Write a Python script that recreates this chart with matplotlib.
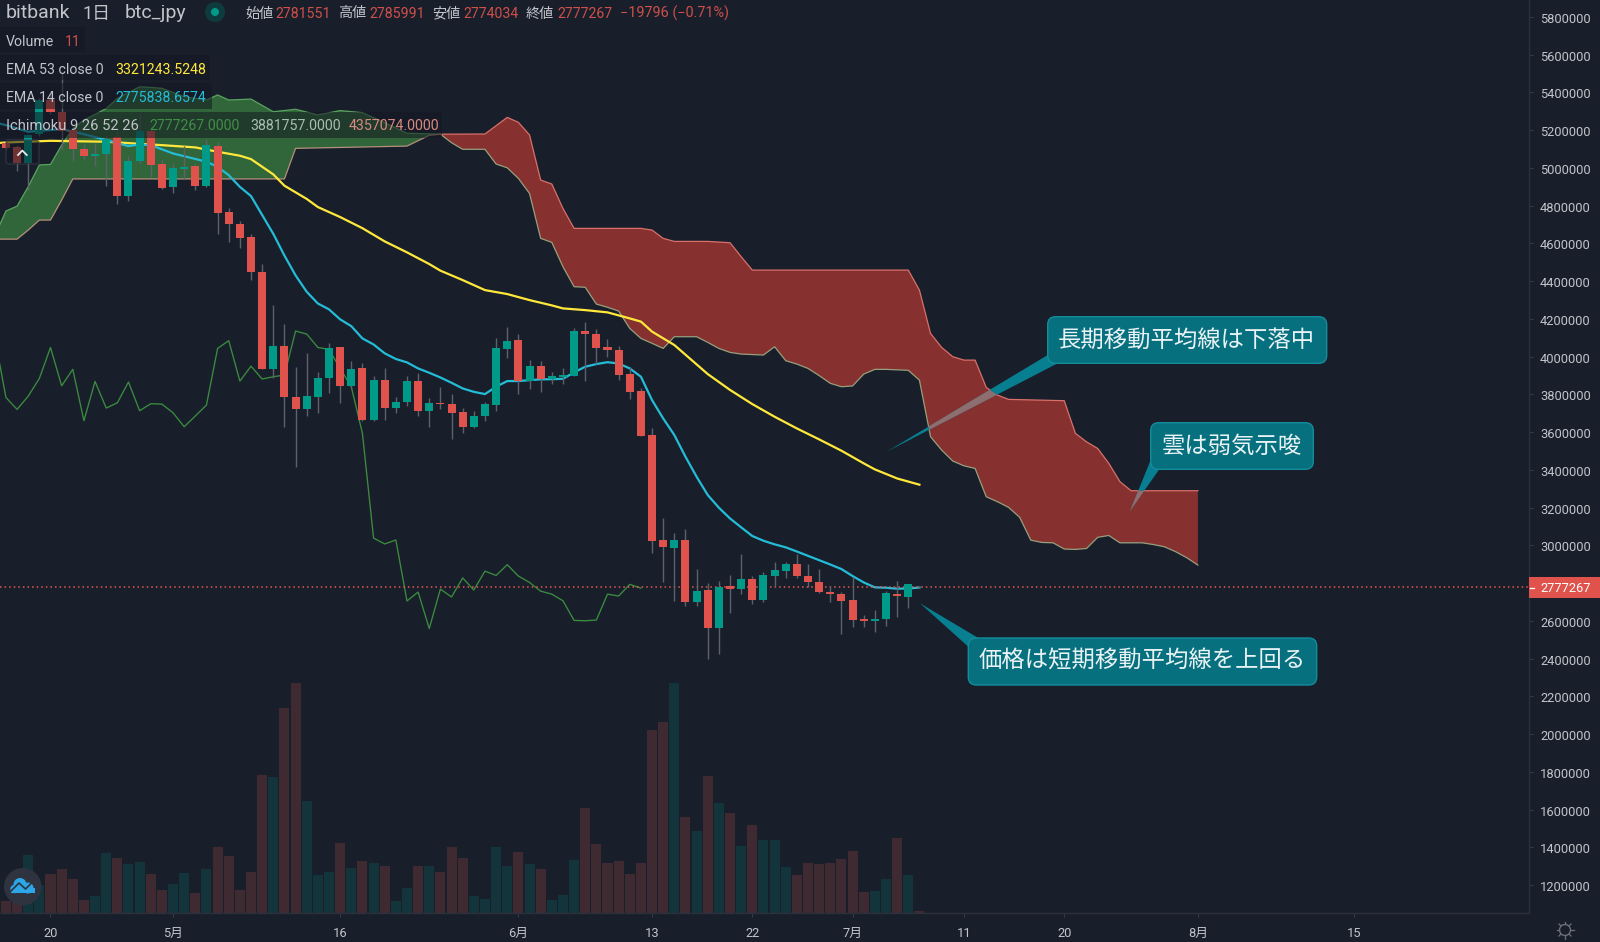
import numpy as np
import matplotlib
matplotlib.use("Agg")
import matplotlib.pyplot as plt
from matplotlib.patches import Circle, FancyBboxPatch, Polygon, Rectangle
from matplotlib.transforms import ScaledTranslation

plt.rcParams["font.family"] = ["Roboto", "Noto Sans CJK JP", "DejaVu Sans"]

BG = "#181f2b"
RED = "#df534c"
TEAL = "#009a88"
GREY_TEXT = "#c2c4ca"

# day 0 is 20 April, prices are in thousand yen
candle_days = np.arange(-4, 79)
opens = [5129, 5108, 5023, 5177, 5359, 5293, 5200, 5102, 5064, 5072, 5164, 4850, 5035, 5196, 5019, 4896, 4996,
         5009, 4905, 5117, 4767, 4700, 4634, 4449, 3932, 4054, 3787, 3720, 3787, 3888, 4048, 3845, 3937, 3662,
         3875, 3729, 3757, 3868, 3713, 3752, 3748, 3704, 3628, 3683, 3745, 4041, 4089, 3872, 3949, 3879, 3889,
         3898, 4136, 4122, 4052, 4034, 3905, 3817, 3582, 3027, 2987, 3027, 2697, 2763, 2563, 2782, 2770, 2821,
         2710, 2838, 2865, 2900, 2838, 2805, 2755, 2743, 2708, 2609, 2598, 2607, 2743, 2727, 2781.551]
highs = [5140, 5120, 5177, 5370, 5400, 5500, 5208, 5124, 5129, 5173, 5196, 5062, 5288, 5217, 5041, 5018, 5115,
         5022, 5155, 5134, 4788, 4717, 4650, 4488, 4273, 4175, 3946, 4020, 3919, 4070, 4050, 3976, 3964, 3896,
         3937, 3783, 3896, 3911, 3778, 3836, 3801, 3725, 3711, 3757, 4096, 4154, 4119, 3981, 3976, 3916, 3937,
         4149, 4181, 4144, 4092, 4055, 3946, 3831, 3619, 3142, 3063, 3084, 2872, 2801, 2812, 2842, 2952, 2837,
         2856, 2909, 2911, 2952, 2900, 2874, 2784, 2750, 2830, 2630, 2657, 2759, 2810, 2794, 2785.991]
lows = [5100, 4982, 4882, 5170, 5285, 5094, 5035, 5046, 5011, 4905, 4806, 4823, 5028, 4952, 4887, 4869, 4943,
        4882, 4899, 4647, 4608, 4573, 4405, 3932, 3884, 3625, 3416, 3685, 3699, 3808, 3752, 3831, 3660, 3660,
        3662, 3699, 3738, 3685, 3625, 3720, 3561, 3593, 3623, 3660, 3711, 3993, 3804, 3829, 3813, 3852, 3854,
        3896, 3872, 3963, 3999, 3875, 3774, 3578, 2960, 2807, 2706, 2678, 2678, 2395, 2423, 2642, 2741, 2687,
        2697, 2784, 2824, 2828, 2780, 2748, 2701, 2529, 2568, 2568, 2540, 2574, 2621, 2669, 2774.034]
closes = [5106, 5023, 5173, 5359, 5293, 5194, 5099, 5062, 5071, 5155, 4850, 5037, 5196, 5014, 4894, 5000, 5005,
          4905, 5120, 4763, 4700, 4629, 4449, 3932, 4054, 3783, 3720, 3790, 3888, 4047, 3843, 3934, 3662, 3875,
          3729, 3759, 3868, 3713, 3752, 3746, 3700, 3628, 3685, 3748, 4045, 4084, 3870, 3949, 3879, 3898, 3902,
          4136, 4117, 4046, 4034, 3902, 3813, 3580, 3024, 2992, 3027, 2697, 2759, 2563, 2780, 2770, 2821, 2710,
          2842, 2867, 2899, 2837, 2803, 2754, 2743, 2704, 2604, 2598, 2609, 2745, 2731, 2793, 2777.267]
volumes = [35, 32, 175, 85, 117, 132, 103, 40, 52, 181, 166, 146, 154, 116, 68, 87, 119, 61, 131, 197, 172, 68,
           124, 415, 407, 616, 689, 337, 113, 124, 211, 136, 155, 151, 142, 35, 76, 142, 142, 122, 199, 166, 50,
           42, 197, 142, 183, 147, 132, 40, 55, 158, 315, 207, 151, 156, 116, 151, 549, 574, 689, 289, 247, 410,
           331, 301, 202, 265, 220, 220, 137, 115, 151, 146, 151, 162, 187, 64, 67, 101, 225, 115, 5]

ema53_days = [-5, -4, 0, 5, 10, 13, 15, 17, 18, 20, 21, 23, 24, 26, 28, 30, 32, 34, 35, 37, 39, 41, 43, 45, 46,
              48, 50, 52, 53, 54, 56, 59, 61, 63, 65, 67, 69, 71, 73, 74, 76, 78]
ema53 = [5130, 5134, 5143, 5138, 5120, 5108, 5085, 5064, 5046, 4965, 4905, 4835, 4792, 4739, 4680, 4610, 4552,
         4490, 4455, 4405, 4352, 4331, 4299, 4271, 4255, 4246, 4234, 4202, 4185, 4132, 4061, 3907, 3823, 3748,
         3681, 3619, 3561, 3501, 3434, 3402, 3354, 3321]

ema14_days = [-5, -4, -2, 1, 3, 5, 7, 8, 9, 11, 14, 15, 16, 17, 18, 19, 20, 21, 22, 23, 24, 25, 26, 27, 28, 29,
              30, 31, 32, 33, 34, 35, 36, 37, 38, 39, 40, 41, 42, 43, 44, 45, 46, 47, 48, 49, 50, 51, 52, 53, 54,
              55, 56, 57, 58, 59, 60, 61, 62, 63, 64, 65, 66, 67, 68, 69, 70, 71, 72, 73, 74, 75, 76, 77, 78]
ema14 = [5240, 5226, 5191, 5205, 5178, 5147, 5115, 5124, 5120, 5076, 5032, 5005, 4961, 4899, 4850, 4750, 4650,
         4535, 4430, 4343, 4281, 4250, 4197, 4161, 4096, 4064, 4017, 3987, 3969, 3937, 3914, 3889, 3861, 3831,
         3813, 3801, 3840, 3870, 3870, 3875, 3879, 3880, 3882, 3916, 3946, 3960, 3970, 3963, 3937, 3893, 3769,
         3672, 3584, 3469, 3363, 3266, 3199, 3142, 3095, 3049, 3024, 3005, 2989, 2967, 2944, 2921, 2898, 2874,
         2837, 2803, 2777, 2775, 2770, 2771, 2776]

lagging_days = np.arange(-5, 54)
lagging = [4100, 3783, 3720, 3790, 3884, 4048, 3845, 3932, 3660, 3868, 3727, 3755, 3865, 3713, 3750, 3748, 3702,
           3628, 3685, 3743, 4043, 4084, 3870, 3949, 3881, 3893, 3902, 4135, 4119, 4048, 4038, 3937, 3840, 3593,
           3038, 3007, 3028, 2705, 2752, 2559, 2768, 2726, 2827, 2763, 2863, 2840, 2897, 2837, 2803, 2757, 2741,
           2706, 2602, 2600, 2604, 2741, 2731, 2793, 2773]

span_a_days = [-5, -4, -3, -2, -1, 0, 1, 2, 3, 4, 5, 6, 7, 8, 9, 10, 12, 14, 15, 16, 18, 20, 22, 24, 26, 28, 30,
               32, 34, 35, 36, 37, 39, 40, 41, 42, 43, 44, 45, 46, 47, 48, 49, 50, 51, 52, 53, 54, 55, 56, 58,
               59, 60, 61, 62, 64, 65, 66, 67, 68, 69, 70, 71, 72, 73, 74, 75, 77, 78, 79, 80, 81, 82, 83, 84,
               85, 86, 87, 88, 89, 90, 91, 92, 93, 94, 95, 96, 97, 98, 99, 100, 101, 102, 103]
span_a = [4640, 4771, 4797, 4900, 5015, 5018, 5120, 5208, 5253, 5283, 5314, 5367, 5399, 5429, 5426, 5421, 5377,
          5359, 5386, 5359, 5364, 5297, 5310, 5280, 5303, 5292, 5239, 5183, 5180, 5178, 5133, 5098, 5098, 5020,
          5000, 4944, 4864, 4626, 4605, 4476, 4370, 4367, 4278, 4261, 4241, 4149, 4096, 4070, 4043, 4105, 4105,
          4075, 4043, 4022, 4013, 4008, 4052, 3978, 3960, 3937, 3899, 3858, 3840, 3844, 3907, 3932, 3932, 3927,
          3875, 3575, 3504, 3446, 3421, 3407, 3257, 3231, 3201, 3148, 3027, 3015, 3013, 2980, 2978, 2983, 3042,
          3052, 3013, 3013, 3013, 3004, 2992, 2966, 2934, 2895]
span_b_days = [-5, -3, -2, -1, 0, 1, 2, 21, 22, 32, 34, 35, 39, 41, 42, 43, 44, 45, 46, 47, 53, 54, 55, 56, 59,
               61, 62, 63, 77, 78, 79, 80, 81, 82, 83, 84, 85, 86, 91, 92, 93, 94, 95, 96, 97, 103]
span_b = [4622, 4622, 4670, 4723, 4723, 4829, 4941, 4941, 5103, 5115, 5172, 5178, 5179, 5267, 5241, 5174, 4935,
          4914, 4785, 4679, 4679, 4670, 4626, 4610, 4610, 4603, 4529, 4458, 4458, 4352, 4122, 4048, 3999, 3981,
          3981, 3836, 3796, 3773, 3766, 3593, 3548, 3513, 3434, 3337, 3289, 3289]

tick_days = [0, 11, 26, 42, 54, 63, 72, 82, 91, 103, 117]
tick_labels = ["20", "5月", "16", "6月", "13", "22", "7月", "11", "20", "8月", "15"]
price_ticks = np.arange(1200000, 5800001, 200000)


def yen(values):
    return np.array(values, dtype=float) * 1000


def px_text(ax, x, y, s, color=GREY_TEXT, size=10.2, **kw):
    ax.text(x, y + 1.5, s, color=color, fontsize=size, va="center", **kw)


def callout(ax, box, tail, text_xy, text, cloud=None):
    # tail first so the box sits on top of it
    ax.add_patch(Polygon(tail, closed=True, fc="#087f90", ec="none", zorder=5))
    if cloud is not None:
        over = Polygon(tail, closed=True, fc="#8e6e6e", ec="none", zorder=6)
        ax.add_patch(over)
        over.set_clip_path(cloud)
    x0, y0, x1, y1 = box
    ax.add_patch(FancyBboxPatch((x0 + 8, y0 + 8), x1 - x0 - 16, y1 - y0 - 16, boxstyle="round,pad=8,rounding_size=8",
                                fc="#07707f", ec="#138c9c", lw=1.0, zorder=7))
    ax.text(text_xy[0], text_xy[1] + 2.5, text, color="#e9f3f5", fontsize=16.8, ha="center", va="center",
            family=["Noto Sans CJK JP", "DejaVu Sans"], zorder=8)


def plot():
    fig = plt.figure(figsize=(16, 9.42), dpi=100, facecolor=BG)
    rect = [0, 29 / 942, 1529 / 1600, 913 / 942]

    ax_vol = fig.add_axes(rect, facecolor=BG, zorder=0)
    ax = fig.add_axes(rect, facecolor="none", zorder=1)
    ui = fig.add_axes([0, 0, 1, 1], facecolor="none", zorder=2)

    xlim = (-4.533, 132.72)
    ax.set_xlim(xlim)
    ax.set_ylim(1051700, 5889000)
    ax_vol.set_xlim(xlim)
    ax_vol.set_ylim(0, 2739)
    ax_vol.axis("off")
    ui.set_xlim(0, 1600)
    ui.set_ylim(942, 0)
    ui.axis("off")

    o, h, l, c = yen(opens), yen(highs), yen(lows), yen(closes)
    up = c >= o

    ax_vol.bar(candle_days, volumes, width=0.9, color=["#14343b" if u else "#3f2a32" for u in up])

    a_days, a_vals = np.array(span_a_days), yen(span_a)
    b_days, b_vals = np.array(span_b_days), yen(span_b)
    cross = 35

    ga, gb = a_days <= cross, b_days <= cross
    ax.fill(np.r_[a_days[ga], b_days[gb][::-1]], np.r_[a_vals[ga], b_vals[gb][::-1]], color="#31663a", lw=0, zorder=2)
    ra, rb = a_days >= cross, b_days >= cross
    cloud = ax.fill(np.r_[a_days[ra], b_days[rb][::-1]], np.r_[a_vals[ra], b_vals[rb][::-1]], color="#873030", lw=0, zorder=2)[0]
    ax.plot(a_days[ga], a_vals[ga], color="#5aa35f", lw=0.9, zorder=2.5)
    ax.plot(a_days[ra], a_vals[ra], color="#97a07c", lw=0.9, zorder=2.5)
    ax.plot(b_days[gb], b_vals[gb], color="#b5907c", lw=0.9, zorder=2.5)
    ax.plot(b_days[rb], b_vals[rb], color="#d9706a", lw=0.9, zorder=2.5)

    ax.plot(lagging_days, yen(lagging), color="#3b8c3f", lw=0.95, zorder=3)
    ax.plot(ema53_days, yen(ema53), color="#ffe83b", lw=1.6, zorder=3.2)
    ax.plot(ema14_days, yen(ema14), color="#24bcd6", lw=1.6, zorder=3.2)

    last_close = c[-1]
    ax.axhline(last_close, color="#e8554e", lw=1.1, ls=(0, (1, 2)), zorder=3.5)

    ax.vlines(candle_days, l, h, color="#5d616c", lw=1.0, zorder=4)
    colors = [TEAL if u else RED for u in up]
    ax.bar(candle_days, np.abs(c - o), bottom=np.minimum(o, c), width=0.72, color=colors, zorder=5)

    for side in ("top", "left"):
        ax.spines[side].set_visible(False)
    for side in ("bottom", "right"):
        ax.spines[side].set_color("#2b303c")
        ax.spines[side].set_linewidth(1.0)

    ax.yaxis.tick_right()
    ax.set_yticks(price_ticks)
    ax.set_yticklabels([str(p) for p in price_ticks])
    ax.tick_params(axis="y", length=3, width=0.8, color="#363a45", labelcolor=GREY_TEXT, labelsize=9.3, pad=5)
    ax.set_xticks(tick_days)
    ax.set_xticklabels(tick_labels)
    ax.tick_params(axis="x", length=3, width=0.8, color="#363a45", labelcolor=GREY_TEXT, labelsize=9.3, pad=7)
    for lbl in ax.get_yticklabels():
        lbl.set_transform(lbl.get_transform() + ScaledTranslation(0, -0.01, fig.dpi_scale_trans))

    # dim strips behind the legend rows
    for x1, y0, y1 in [(85, 27, 52), (210, 55, 80), (212, 83, 109), (442, 112, 138)]:
        ui.add_patch(Rectangle((0, y0), x1, y1 - y0, fc="#131722", ec="none", alpha=0.55, zorder=1))

    # header
    px_text(ui, 6, 12, "bitbank", size=14, zorder=9)
    px_text(ui, 82, 12, "1日", size=13, zorder=9)
    px_text(ui, 125, 12, "btc_jpy", size=14, zorder=9)
    ui.add_patch(Circle((215, 12), 10, fc="#0f3a3e", ec="none", zorder=8))
    ui.add_patch(Circle((215, 12), 4, fc=TEAL, ec="none", zorder=9))
    val_red = "#cf4f4a"
    for x_lab, lab, x_val, val in [(245, "始値", 275, "2781551"), (338, "高値", 369, "2785991"),
                                   (432, "安値", 463, "2774034"), (526, "終値", 557, "2777267")]:
        px_text(ui, x_lab, 12, lab, zorder=9)
        px_text(ui, x_val, 12, val, color=val_red, zorder=9)
    px_text(ui, 620, 12, "−19796 (−0.71%)", color=val_red, size=10.4, zorder=9)

    px_text(ui, 6, 40, "Volume", zorder=9)
    px_text(ui, 65, 40, "11", color=val_red, zorder=9)
    px_text(ui, 6, 68, "EMA 53 close 0", zorder=9)
    px_text(ui, 115, 68, "3321243.5248", color="#ffe83b", zorder=9)
    px_text(ui, 6, 96, "EMA 14 close 0", zorder=9)
    px_text(ui, 115, 96, "2775838.6574", color="#24bcd6", zorder=9)
    px_text(ui, 6, 124, "Ichimoku 9 26 52 26", size=10.6, zorder=9)
    px_text(ui, 149, 124, "2777267.0000", color="#3f8f45", zorder=9)
    px_text(ui, 250, 124, "3881757.0000", color="#a9bfae", zorder=9)
    px_text(ui, 349, 124, "4357074.0000", color="#d98a80", zorder=9)

    # collapse button
    ui.add_patch(FancyBboxPatch((9, 143), 27, 18, boxstyle="round,pad=3,rounding_size=3", fc="#131722", alpha=0.55,
                                ec="#3f434e", lw=1.0, zorder=3))
    ui.plot([18, 22.3, 26.7], [155, 150.5, 155], color="#e8e8e8", lw=1.3, zorder=4)

    # last price tag
    ui.add_patch(Rectangle((1529, 577), 71, 21, fc=RED, ec="none", zorder=6))
    ui.plot([1530, 1533.5], [587.5, 587.5], color="white", lw=0.9, zorder=7)
    ui.text(1540, 588.5, "2777267", color="white", fontsize=9.3, va="center", zorder=7)

    # logo bottom left
    ui.add_patch(Circle((22.7, 886.7), 18.7, fc="#2f333f", ec="none", zorder=6))
    for cx, cy, r in [(20, 884.5, 6.5), (28, 888, 5.5), (14.5, 889, 4.2)]:
        ui.add_patch(Circle((cx, cy), r, fc="#2ba6e6", ec="none", zorder=7))
    ui.add_patch(Rectangle((11, 888), 24, 5, fc="#2ba6e6", ec="none", zorder=7))
    ui.plot([11, 19, 25.5, 34], [891, 883, 889, 880.5], color="#2f333f", lw=1.2, zorder=8)

    # settings gear bottom right
    ui.add_patch(Circle((1565, 930), 5.5, fc="none", ec="#6b6f7a", lw=1.0, zorder=7))
    for ang in np.deg2rad(np.arange(0, 360, 45)):
        ui.plot([1565 + 6 * np.cos(ang), 1565 + 8.5 * np.cos(ang)],
                [930 + 6 * np.sin(ang), 930 + 8.5 * np.sin(ang)], color="#6b6f7a", lw=0.9, zorder=7)

    callout(ui, (1047.7, 316.7, 1326.7, 363.3), [(1047.7, 355), (886.7, 451.7), (1057.7, 363.3)],
            (1186.7, 338), "長期移動平均線は下落中", cloud=cloud)
    callout(ui, (1150.7, 422.7, 1313.3, 469.3), [(1150.7, 460), (1130, 511), (1159.3, 469.3)],
            (1231.7, 444), "雲は弱気示唆", cloud=cloud)
    callout(ui, (968.3, 638, 1316.7, 685), [(968.3, 646.7), (920, 603.3), (978.3, 638)],
            (1141.7, 659), "価格は短期移動平均線を上回る")

    fig.savefig("out.png", dpi=100, facecolor=BG)


if __name__ == '__main__':
    plot()
